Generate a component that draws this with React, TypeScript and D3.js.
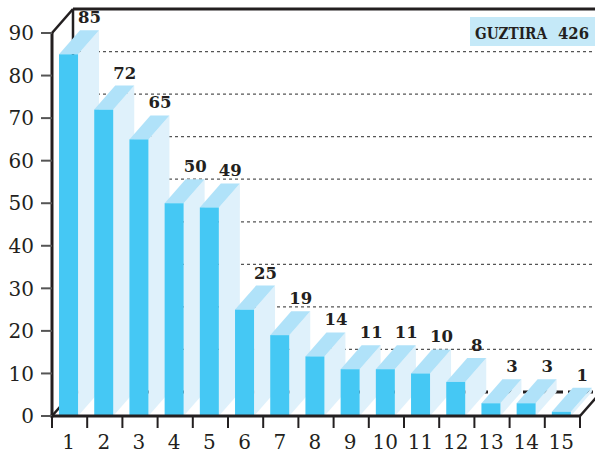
import React, { useEffect, useRef } from 'react';
import * as d3 from 'd3';

// chart data
const categories: string[] = ['1', '2', '3', '4', '5', '6', '7', '8', '9', '10', '11', '12', '13', '14', '15'];
const values: number[] = [85, 72, 65, 50, 49, 25, 19, 14, 11, 11, 10, 8, 3, 3, 1];
const yTicks: number[] = [0, 10, 20, 30, 40, 50, 60, 70, 80, 90];
const totalLabel = 'GUZTIRA';
const totalValue = 426;

const W = 595;
const H = 454;
const DX = 21; // depth offset (oblique 3d)
const DY = -24;

const FRONT = '#45c8f4';
const TOP = '#b0e2f9';
const SIDE = '#dff1fb';
const INK = '#231f20';

export const App: React.FC = () => {
  const svgRef = useRef<SVGSVGElement | null>(null);

  useEffect(() => {
    const svg = d3.select(svgRef.current);
    svg.selectAll('*').remove();

    const x = d3.scaleBand<string>().domain(categories).range([52, 580]).padding(0);
    const y = d3.scaleLinear().domain([0, 90]).range([416, 33]);
    const bw = x.bandwidth();
    const barOff = bw * 0.2;
    const barW = bw * 0.54;

    const x0 = x.range()[0];
    const x1 = x.range()[1];

    // back wall gridlines
    svg.append('g')
      .selectAll('line')
      .data(yTicks.filter(t => t > 0 && t < 90))
      .join('line')
      .attr('x1', x0 + DX)
      .attr('x2', W)
      .attr('y1', d => y(d) + DY)
      .attr('y2', d => y(d) + DY)
      .attr('stroke', '#555')
      .attr('stroke-width', 1.2)
      .attr('stroke-dasharray', '3,3');

    // back floor line
    svg.append('line')
      .attr('x1', x0 + DX).attr('x2', W)
      .attr('y1', y(0) + DY).attr('y2', y(0) + DY)
      .attr('stroke', INK).attr('stroke-width', 3)
      .attr('stroke-dasharray', '10,5');

    // frame: top line, back vertical, diagonals
    const frame = svg.append('g').attr('stroke', INK).attr('fill', 'none');
    frame.append('line')
      .attr('x1', x0 + DX).attr('x2', W)
      .attr('y1', y(90) + DY).attr('y2', y(90) + DY)
      .attr('stroke-width', 3);
    frame.append('line')
      .attr('x1', x0 + DX).attr('x2', x0 + DX)
      .attr('y1', y(90) + DY).attr('y2', y(0) + DY)
      .attr('stroke-width', 2.5);
    frame.append('line')
      .attr('x1', x0).attr('x2', x0 + DX)
      .attr('y1', y(90)).attr('y2', y(90) + DY)
      .attr('stroke-width', 2.5);
    frame.append('line')
      .attr('x1', x0).attr('x2', x0 + DX)
      .attr('y1', y(0)).attr('y2', y(0) + DY)
      .attr('stroke-width', 2.5);
    frame.append('line')
      .attr('x1', x1).attr('x2', x1 + DX)
      .attr('y1', y(0)).attr('y2', y(0) + DY)
      .attr('stroke-width', 2.5);

    // bars, left to right so next bar covers previous side face
    const bars = svg.append('g')
      .selectAll('g')
      .data(values)
      .join('g');

    bars.append('polygon')
      .attr('fill', SIDE)
      .attr('points', (d, i) => {
        const bx = (x(categories[i]) as number) + barOff + barW;
        return [[bx, y(d)], [bx + DX, y(d) + DY], [bx + DX, y(0) + DY], [bx, y(0)]].join(' ');
      });

    bars.append('polygon')
      .attr('fill', TOP)
      .attr('points', (d, i) => {
        const bx = (x(categories[i]) as number) + barOff;
        return [[bx, y(d)], [bx + barW, y(d)], [bx + barW + DX, y(d) + DY], [bx + DX, y(d) + DY]].join(' ');
      });

    bars.append('rect')
      .attr('fill', FRONT)
      .attr('x', (d, i) => (x(categories[i]) as number) + barOff)
      .attr('y', d => y(d))
      .attr('width', barW)
      .attr('height', d => y(0) - y(d));

    // value labels
    svg.append('g')
      .selectAll('text')
      .data(values)
      .join('text')
      .attr('x', (d, i) => (x(categories[i]) as number) + barOff + barW / 2 + DX)
      .attr('y', d => y(d) + DY - 7)
      .attr('text-anchor', 'middle')
      .attr('font-family', 'DejaVu Serif')
      .attr('font-weight', 'bold')
      .attr('font-size', 16.5)
      .attr('fill', INK)
      .text(d => d);

    // front axes
    svg.append('line')
      .attr('x1', x0).attr('x2', x0)
      .attr('y1', y(90) - 1).attr('y2', y(0) + 1.5)
      .attr('stroke', INK).attr('stroke-width', 3);
    svg.append('line')
      .attr('x1', x0 - 1.5).attr('x2', x1)
      .attr('y1', y(0)).attr('y2', y(0))
      .attr('stroke', INK).attr('stroke-width', 3);

    // y ticks + labels
    const yt = svg.append('g')
      .selectAll('g')
      .data(yTicks)
      .join('g')
      .attr('transform', d => `translate(0,${y(d)})`);
    yt.append('line')
      .attr('x1', x0 - 11).attr('x2', x0)
      .attr('stroke', '#555').attr('stroke-width', 2);
    yt.append('text')
      .attr('x', x0 - 18)
      .attr('dy', '0.36em')
      .attr('text-anchor', 'end')
      .attr('font-family', 'DejaVu Serif')
      .attr('font-size', 20)
      .attr('fill', INK)
      .text(d => d);

    // x ticks at band edges
    const edges = categories.map(c => x(c) as number).concat([x1]);
    svg.append('g')
      .selectAll('line')
      .data(edges)
      .join('line')
      .attr('x1', d => d).attr('x2', d => d)
      .attr('y1', y(0)).attr('y2', y(0) + 12)
      .attr('stroke', INK).attr('stroke-width', 2);

    svg.append('g')
      .selectAll('text')
      .data(categories)
      .join('text')
      .attr('x', d => (x(d) as number) + barOff + barW / 2)
      .attr('y', 449)
      .attr('text-anchor', 'middle')
      .attr('font-family', 'DejaVu Serif')
      .attr('font-size', 20)
      .attr('fill', INK)
      .text(d => d);

    // total box
    svg.append('rect')
      .attr('x', 470).attr('y', 17)
      .attr('width', W - 470).attr('height', 29)
      .attr('fill', '#c5e9f8');
    const totalG = svg.append('g')
      .attr('font-family', 'DejaVu Serif')
      .attr('font-weight', 'bold')
      .attr('font-size', 16)
      .attr('fill', INK);
    totalG.append('text')
      .attr('x', 475).attr('y', 39)
      .attr('textLength', 72)
      .attr('lengthAdjust', 'spacingAndGlyphs')
      .text(totalLabel);
    totalG.append('text')
      .attr('x', 558).attr('y', 39)
      .attr('textLength', 31)
      .attr('lengthAdjust', 'spacingAndGlyphs')
      .text(totalValue);

    return () => {
      svg.selectAll('*').remove();
    };
  }, []);

  return (
    <svg ref={svgRef} width={W} height={H} style={{ position: 'absolute', left: 0, top: 0, background: '#fff' }} />
  );
};

export default App;
